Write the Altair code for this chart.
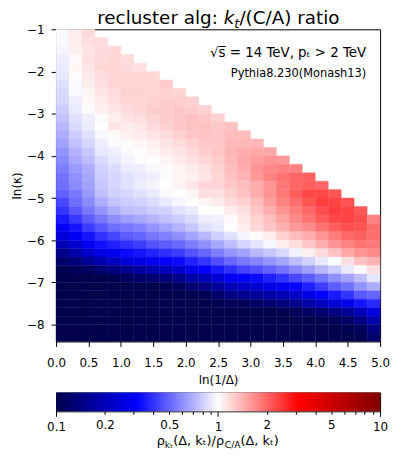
import altair as alt
import pandas as pd

# bin edges of the 2D histogram
x_edges = [0.0, 0.2, 0.4, 0.6, 0.8, 1.0, 1.2, 1.4, 1.6, 1.8, 2.0, 2.2, 2.4,
           2.6, 2.8, 3.0, 3.2, 3.4, 3.6, 3.8, 4.0, 4.2, 4.4, 4.6, 4.8, 5.0]
y_edges = [-1.0, -1.2, -1.4, -1.6, -1.8, -2.0, -2.2, -2.4, -2.6, -2.8, -3.0,
           -3.2, -3.4, -3.6, -3.8, -4.0, -4.2, -4.4, -4.6, -4.8, -5.0, -5.2,
           -5.4, -5.6, -5.8, -6.0, -6.2, -6.4, -6.6, -6.8, -7.0, -7.2, -7.4,
           -7.6, -7.8, -8.0, -8.2, -8.4]

# log10(ratio) per row (top row first), columns from ln(1/Delta)=0 upward
r00 = [-0.014, 0.04, 0.07]
r01 = [-0.014, 0.033, 0.06, 0.07]
r02 = [-0.02, 0.03, 0.053, 0.073, 0.08]
r03 = [-0.033, 0.014, 0.06, 0.073, 0.08, 0.07]
r04 = [-0.04, 0.02, 0.05, 0.08, 0.084, 0.073, 0.06]
r05 = [-0.045, 0.006, 0.04, 0.07, 0.084, 0.08, 0.08, 0.08]
r06 = [-0.06, -0.01, 0.033, 0.06, 0.08, 0.08, 0.08, 0.08, 0.10]
r07 = [-0.073, -0.014, 0.02, 0.05, 0.07, 0.09, 0.09, 0.084, 0.09, 0.084]
r08 = [-0.08, -0.033, 0.014, 0.04, 0.06, 0.08, 0.084, 0.09, 0.10, 0.10, 0.09]
r09 = [-0.10, -0.04, -0.01, 0.03, 0.05, 0.07, 0.08, 0.10, 0.10, 0.11, 0.10, 0.09]
r10 = [-0.12, -0.06, -0.033, 0.01, 0.03, 0.053, 0.065, 0.084, 0.10, 0.11, 0.12, 0.11, 0.09]
r11 = [-0.14, -0.07, -0.04, 0.0, 0.05, 0.04, 0.05, 0.07, 0.09, 0.11, 0.12, 0.12, 0.11, 0.12]
r12 = [-0.16, -0.10, -0.06, -0.014, 0.014, 0.03, 0.04, 0.053, 0.07, 0.09, 0.11, 0.12, 0.11,
       0.13, 0.13]
r13 = [-0.18, -0.12, -0.08, -0.033, -0.01, 0.01, 0.02, 0.033, 0.053, 0.07, 0.09, 0.11, 0.11,
       0.14, 0.14, 0.14]
r14 = [-0.21, -0.15, -0.11, -0.046, -0.033, -0.01, 0.006, 0.02, 0.04, 0.053, 0.073, 0.10,
       0.115, 0.145, 0.16, 0.17, 0.17]
r15 = [-0.23, -0.17, -0.13, -0.07, -0.046, -0.02, -0.01, 0.006, 0.02, 0.04, 0.06, 0.08, 0.10,
       0.14, 0.17, 0.19, 0.21, 0.20]
r16 = [-0.255, -0.20, -0.16, -0.09, -0.07, -0.04, -0.033, -0.014, 0.01, 0.02, 0.04, 0.06,
       0.09, 0.13, 0.16, 0.21, 0.235, 0.245, 0.245]
r17 = [-0.275, -0.22, -0.17, -0.10, -0.08, -0.06, -0.045, -0.033, -0.01, 0.02, 0.03, 0.053,
       0.08, 0.12, 0.15, 0.20, 0.245, 0.275, 0.30, 0.31]
r18 = [-0.285, -0.23, -0.185, -0.11, -0.085, -0.06, -0.033, -0.02, 0.0, 0.025, 0.05, 0.08,
       0.084, 0.11, 0.13, 0.16, 0.21, 0.265, 0.30, 0.32, 0.30]
r19 = [-0.31, -0.265, -0.20, -0.125, -0.09, -0.08, -0.06, -0.04, -0.01, 0.0, 0.02, 0.06,
       0.06, 0.09, 0.12, 0.16, 0.21, 0.265, 0.32, 0.36, 0.36, 0.33]
r20 = [-0.36, -0.285, -0.23, -0.16, -0.12, -0.10, -0.09, -0.07, -0.04, -0.02, 0.006, 0.02,
       0.04, 0.07, 0.09, 0.13, 0.19, 0.245, 0.285, 0.34, 0.38, 0.37, 0.34]
r21 = [-0.40, -0.33, -0.265, -0.21, -0.16, -0.13, -0.12, -0.10, -0.09, -0.06, -0.04, 0.0,
       0.0, 0.04, 0.06, 0.11, 0.16, 0.21, 0.255, 0.30, 0.35, 0.38, 0.37, 0.33]
r22 = [-0.45, -0.39, -0.32, -0.265, -0.22, -0.19, -0.17, -0.15, -0.12, -0.10, -0.07, -0.033,
       -0.03, 0.01, 0.05, 0.09, 0.13, 0.18, 0.23, 0.275, 0.32, 0.36, 0.37, 0.35, 0.245]
r23 = [-0.53, -0.46, -0.38, -0.33, -0.285, -0.265, -0.245, -0.21, -0.18, -0.15, -0.11, -0.06,
       -0.045, 0.0, 0.035, 0.075, 0.115, 0.155, 0.20, 0.23, 0.275, 0.32, 0.35, 0.34, 0.285]
r24 = [-0.60, -0.53, -0.46, -0.40, -0.36, -0.32, -0.30, -0.265, -0.245, -0.22, -0.18, -0.14,
       -0.09, -0.06, -0.02, 0.01, 0.035, 0.09, 0.13, 0.16, 0.21, 0.255, 0.295, 0.31, 0.285]
r25 = [-0.71, -0.63, -0.54, -0.47, -0.44, -0.41, -0.38, -0.34, -0.32, -0.295, -0.255, -0.22,
       -0.17, -0.13, -0.085, -0.055, -0.015, 0.035, 0.065, 0.11, 0.16, 0.21, 0.245, 0.275, 0.265]
r26 = [-0.82, -0.74, -0.65, -0.58, -0.54, -0.48, -0.46, -0.43, -0.41, -0.38, -0.335, -0.30,
       -0.255, -0.21, -0.18, -0.14, -0.11, -0.075, -0.025, 0.03, 0.07, 0.12, 0.17, 0.21, 0.23]
r27 = [-0.91, -0.87, -0.79, -0.72, -0.67, -0.61, -0.57, -0.54, -0.51, -0.48, -0.435, -0.40,
       -0.345, -0.30, -0.265, -0.24, -0.21, -0.175, -0.13, -0.09, -0.046, 0.0, 0.06, 0.12, 0.15]
r28 = [-0.98, -0.96, -0.94, -0.89, -0.85, -0.81, -0.77, -0.72, -0.68, -0.64, -0.57, -0.51,
       -0.45, -0.41, -0.37, -0.345, -0.31, -0.275, -0.235, -0.19, -0.14, -0.10, -0.046, 0.01, 0.06]
r29 = [-1.1, -1.1, -1.1, -1.1, -0.98, -0.95, -0.92, -0.89, -0.87, -0.82, -0.75, -0.71,
       -0.62, -0.54, -0.51, -0.48, -0.44, -0.40, -0.36, -0.32, -0.27, -0.22, -0.18, -0.13, -0.05]
r30 = [-1.1, -1.1, -1.1, -1.1, -1.1, -1.1, -1.1, -1.1, -0.98, -0.95, -0.89, -0.855,
       -0.78, -0.70, -0.66, -0.63, -0.58, -0.54, -0.49, -0.44, -0.38, -0.32, -0.28, -0.21, -0.16]
r31 = [-1.1, -1.1, -1.1, -1.1, -1.1, -1.1, -1.1, -1.1, -1.1, -1.1, -1.0, -0.97,
       -0.91, -0.85, -0.81, -0.78, -0.75, -0.70, -0.65, -0.58, -0.50, -0.45, -0.40, -0.33, -0.30]
r32 = [-1.1, -1.1, -1.1, -1.1, -1.1, -1.1, -1.1, -1.1, -1.1, -1.1, -1.1, -1.1,
       -0.98, -0.97, -0.96, -0.93, -0.90, -0.86, -0.82, -0.75, -0.68, -0.61, -0.55, -0.46, -0.42]
r33 = [-1.1, -1.1, -1.1, -1.1, -1.1, -1.1, -1.1, -1.1, -1.1, -1.1, -1.1, -1.1,
       -1.1, -1.1, -1.1, -1.1, -1.1, -0.99, -0.96, -0.93, -0.90, -0.85, -0.79, -0.69, -0.58]
r34 = [-1.1, -1.1, -1.1, -1.1, -1.1, -1.1, -1.1, -1.1, -1.1, -1.1, -1.1, -1.1,
       -1.1, -1.1, -1.1, -1.1, -1.1, -1.1, -1.1, -1.1, -0.98, -0.96, -0.93, -0.85, -0.73]
r35 = [-1.1, -1.1, -1.1, -1.1, -1.1, -1.1, -1.1, -1.1, -1.1, -1.1, -1.1, -1.1,
       -1.1, -1.1, -1.1, -1.1, -1.1, -1.1, -1.1, -1.1, -1.1, -1.1, -0.98, -0.95, -0.85]
r36 = [-1.1, -1.1, -1.1, -1.1, -1.1, -1.1, -1.1, -1.1, -1.1, -1.1, -1.1, -1.1,
       -1.1, -1.1, -1.1, -1.1, -1.1, -1.1, -1.1, -1.1, -1.1, -1.1, -1.1, -1.0, -0.92]

rows = [r00, r01, r02, r03, r04, r05, r06, r07, r08, r09, r10, r11, r12, r13, r14,
        r15, r16, r17, r18, r19, r20, r21, r22, r23, r24, r25, r26, r27, r28, r29,
        r30, r31, r32, r33, r34, r35, r36]

x_ticks = [0.0, 0.5, 1.0, 1.5, 2.0, 2.5, 3.0, 3.5, 4.0, 4.5, 5.0]
y_ticks = [-8, -7, -6, -5, -4, -3, -2, -1]
cb_ticks = [0.1, 0.2, 0.3, 0.4, 0.5, 0.6, 0.7, 0.8, 0.9, 1, 2, 3, 4, 5, 6, 7, 8, 9, 10]
cb_labels = [0.1, 0.2, 0.5, 1, 2, 5, 10]
cb_limits = [0.1, 10.0]

records = []
for r, row in enumerate(rows):
    for c, v in enumerate(row):
        records.append({"x0": x_edges[c], "x1": x_edges[c + 1],
                        "y_top": y_edges[r], "y_bot": y_edges[r + 1],
                        "ratio": 10 ** v})
df = pd.DataFrame(records)

cmap_domain = [0.1, 10 ** -0.5, 1.0, 10 ** 0.5, 10.0]
cmap_range = ["#00004c", "#0000ff", "#ffffff", "#ff0000", "#800000"]


def cscale():
    return alt.Scale(type="log", domain=cmap_domain, range=cmap_range,
                     interpolate="rgb", clamp=True)


FONT = "DejaVu Sans"
W = 327

heat = alt.Chart(df).mark_rect(strokeWidth=0.4).encode(
    x=alt.X("x0:Q", scale=alt.Scale(domain=[0, 5], nice=False, zero=False),
            axis=alt.Axis(values=x_ticks, format=".1f", title="ln(1/Δ)",
                          labelFlush=False, labelOverlap=False, tickSize=5,
                          labelPadding=11, titlePadding=6)),
    x2="x1:Q",
    y=alt.Y("y_top:Q", scale=alt.Scale(domain=[-8.4, -1], nice=False, zero=False),
            axis=alt.Axis(values=y_ticks, format="d", title="ln(κ)",
                          labelFlush=False, labelOverlap=False, tickSize=5,
                          labelPadding=7, titlePadding=3)),
    y2="y_bot:Q",
    color=alt.Color("ratio:Q", scale=cscale(), legend=None),
    stroke=alt.Stroke("ratio:Q", scale=cscale(), legend=None),
)

one = alt.Data(values=[{"k": 1}])


def piece(text, px, py, fs, align="left", style="normal"):
    return alt.Chart(one).mark_text(
        text=text, align=align, baseline="alphabetic", fontSize=fs, font=FONT,
        fontStyle=style, color="black").encode(x=alt.value(px), y=alt.value(py))


# title: "recluster alg: k_t/(C/A) ratio"
xk = 169.2
ty = -5
title_parts = [
    piece("recluster alg:", xk - 5.9, ty, 18.5, align="right"),
    piece("k", xk, ty, 18.5, style="italic"),
    piece("t", xk + 10.7, ty + 4, 13, style="italic"),
    piece("/(C/A) ratio", xk + 15.8, ty, 18.5),
]
txt1 = piece("√s̅ = 14 TeV, pₜ > 2 TeV", 313, 28, 13.5, align="right")
txt2 = piece("Pythia8.230(Monash13)", 313, 48, 11.5, align="right")

top = alt.layer(heat, *title_parts, txt1, txt2).properties(width=W, height=315)

cb_df = pd.DataFrame({"lo": [cb_limits[0]], "hi": [cb_limits[1]]})
grad = alt.Gradient(
    gradient="linear",
    stops=[alt.GradientStop(offset=i / 4, color=col) for i, col in enumerate(cmap_range)],
    x1=0, x2=1, y1=0, y2=0,
)
label_list = "[" + ",".join(str(v) for v in cb_labels) + "]"
bar = alt.Chart(cb_df).mark_rect(color=grad).encode(
    x=alt.X("lo:Q", scale=alt.Scale(type="log", domain=cb_limits, nice=False),
            axis=alt.Axis(values=cb_ticks, format="~g", title=None,
                          labelExpr=f"indexof({label_list}, datum.value) >= 0 ? datum.label : ''",
                          tickSize={"condition": {"test": "datum.value == 0.1 || datum.value == 1 || datum.value == 10",
                                                  "value": 5}, "value": 3},
                          labelFlush=False, labelOverlap=False, labelPadding=5)),
    x2="hi:Q",
)

# colorbar label  rho_{k_t}(Delta, k_t) / rho_{C/A}(Delta, k_t)
x0 = 101.5
yb = 53
parts = [
    ("ρ", x0, yb, 13),
    ("kₜ", x0 + 8.3, yb + 3, 9.2),
    ("(Δ, kₜ)/ρ", x0 + 16.8, yb, 13),
    ("C/A", x0 + 68.8, yb + 3, 9.2),
    ("(Δ, kₜ)", x0 + 84.6, yb, 13),
]
lbl_layers = [piece(t, px, py, fs) for t, px, py, fs in parts]

cbar = alt.layer(bar, *lbl_layers).properties(width=W, height=19)

chart = alt.vconcat(top, cbar, spacing=5.5).properties(
    padding={"left": 1.5, "top": -1.5, "right": 0, "bottom": -4}
).configure(font=FONT).configure_view(
    stroke="black", strokeWidth=1
).configure_axis(
    labelFontSize=12, titleFontSize=12, labelColor="black", titleColor="black",
    tickColor="black", domain=False, grid=False, titleFontWeight="normal",
    labelFont=FONT, titleFont=FONT, tickWidth=1,
)

chart.save("out.html", embed_options={"renderer": "svg", "actions": False})
